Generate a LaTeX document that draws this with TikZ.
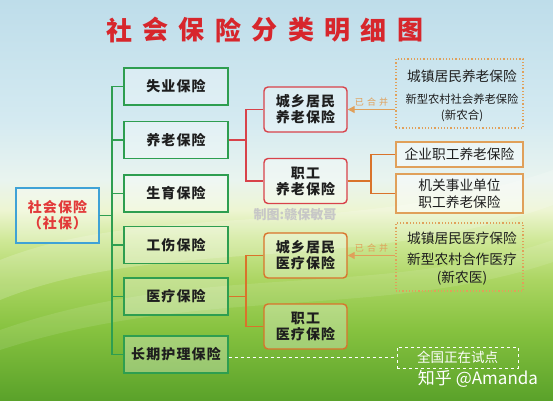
\documentclass[tikz,border=0pt]{standalone}
\usepackage{fontspec}
\setmainfont{Noto Sans CJK SC}
\usetikzlibrary{arrows.meta}
\definecolor{gcol}{HTML}{2E9E50}
\definecolor{bcol}{HTML}{3FA2D6}
\definecolor{rcol}{HTML}{D8424A}
\definecolor{ocol}{HTML}{D9732B}
\definecolor{dcol}{HTML}{E0A05A}
\definecolor{tred}{HTML}{D7262C}
\definecolor{rtred}{HTML}{E23A3A}
\definecolor{txt}{HTML}{1E1E1E}
\definecolor{bgA}{HTML}{BEDDEA}
\definecolor{bgB}{HTML}{D4EAF1}
\definecolor{bgC}{HTML}{E9F4EF}
\definecolor{bgD}{HTML}{EDF5D2}
\definecolor{bgE}{HTML}{CFE897}
\definecolor{bgF}{HTML}{ABD562}
\definecolor{bgG}{HTML}{86C23F}
\definecolor{bgH}{HTML}{5AA22A}
\pgfdeclareverticalshading{bgshade}{100bp}{color(0bp)=(bgH); color(25bp)=(bgH); color(33.75bp)=(bgG); color(40bp)=(bgF); color(45bp)=(bgE); color(48.75bp)=(bgD); color(52.5bp)=(bgC); color(60bp)=(bgB); color(75bp)=(bgA); color(100bp)=(bgA)}
\tikzset{
  boxtext/.style={font=\fontsize{14}{16}\selectfont\bfseries\addfontfeature{LetterSpace=8}, text=txt, align=center, inner sep=0pt, fill=white, fill opacity=0.3, text opacity=1},
  gbox/.style={boxtext, draw=gcol, line width=1.4pt, minimum width=104pt, minimum height=37pt},
  rbox/.style={boxtext, draw=rcol, line width=1.4pt, rounded corners=4pt, minimum width=83pt, minimum height=45pt},
  obox/.style={boxtext, draw=ocol, line width=1.4pt, rounded corners=4pt, minimum width=83pt, minimum height=45pt},
  sbox/.style={draw=dcol, line width=1.3pt, fill=white, fill opacity=0.45, text opacity=1, minimum width=127pt, inner sep=0pt, align=center, text=txt, font=\fontsize{13.7}{16}\selectfont},
  dbox/.style={draw=dcol, line width=1.2pt, dotted, minimum width=127pt, inner sep=0pt},
  gline/.style={draw=gcol, line width=1.2pt},
  rline/.style={draw=rcol, line width=1.2pt},
  oline/.style={draw=ocol, line width=1.2pt},
  mline/.style={draw=dcol, line width=1.2pt, -{Triangle[length=7pt,width=7pt]}},
  mlabel/.style={text=dcol, font=\fontsize{9}{10}\selectfont\addfontfeature{LetterSpace=35}, inner sep=1pt},
  rtext/.style={text=txt, inner sep=0pt}
}
\begin{document}
\begin{tikzpicture}[x=1pt,y=-1pt]
\useasboundingbox (0,0) rectangle (553,400);
\shade[shading=bgshade] (0,0) rectangle (553,400);
% soft waves
\fill[white, opacity=0.18] (0,260) .. controls (150,200) and (350,240) .. (553,170) -- (553,205) .. controls (360,275) and (160,235) .. (0,300) -- cycle;
\fill[white, opacity=0.10] (0,330) .. controls (200,260) and (380,300) .. (553,240) -- (553,262) .. controls (380,320) and (200,285) .. (0,350) -- cycle;

% title
\foreach \c [count=\i] in {社,会,保,险,分,类,明,细,图}{
  \node[text=tred, font=\fontsize{26}{28}\selectfont\bfseries, inner sep=0pt] (title\i) at ({119+36.4*(\i-1)},30) {\c};
}

% watermark
\node[text=black!22, font=\fontsize{13}{14}\selectfont\bfseries, inner sep=0pt] (wm) at (295,215) {制图:赣保敏哥};

% root
\node[boxtext, draw=bcol, line width=1.4pt, minimum width=83pt, minimum height=55pt, text=rtred] (root) at (57.5,215.5) {社会保险\\（社保）};

% level 1
\node[gbox] (sy) at (176,86.5) {失业保险};
\node[gbox] (yl) at (176,140) {养老保险};
\node[gbox] (sh) at (176,193.5) {生育保险};
\node[gbox] (gs) at (176,245) {工伤保险};
\node[gbox] (yy) at (176,296.5) {医疗保险};
\node[gbox] (cq) at (176,354.5) {长期护理保险};

\coordinate (tx) at (112,0);
\foreach \n in {sy,yl,sh,gs,yy,cq}{
  \draw[gline] (root.east) -- (root.east -| tx) |- (\n.west);
}

% level 2
\node[rbox] (cxyl) at (305.5,109.5) {城乡居民\\养老保险};
\node[rbox] (zgyl) at (305.5,181) {职工\\养老保险};
\node[obox] (cxyy) at (305.5,255.5) {城乡居民\\医疗保险};
\node[obox] (zgyy) at (305.5,326.5) {职工\\医疗保险};

\coordinate (rx) at (246,0);
\draw[rline] (yl.east) -- (yl.east -| rx) |- (cxyl.west);
\draw[rline] (yl.east) -- (yl.east -| rx) |- (zgyl.west);
\draw[oline] (yy.east) -- (yy.east -| rx) |- (cxyy.west);
\draw[oline] (yy.east) -- (yy.east -| rx) |- (zgyy.west);

% level 3 pension
\node[dbox, minimum height=69pt] (d1) at (459.5,93.5) {};
\node[rtext, font=\fontsize{13.7}{15}\selectfont] (d1a) at (462,76) {城镇居民养老保险};
\node[rtext, font=\fontsize{11.3}{13}\selectfont] (d1b) at (462,99) {新型农村社会养老保险};
\node[rtext, font=\fontsize{11.5}{13}\selectfont] (d1c) at (462,115.5) {(新农合)};
\draw[mline] (d1.west |- cxyl.east) -- node[mlabel, above=2pt] {已合并} (cxyl.east);

\node[sbox, minimum height=25pt] (qy) at (459.5,154.5) {企业职工养老保险};
\node[sbox, minimum height=39pt, font=\fontsize{13.7}{17}\selectfont] (jg) at (459.5,193.5) {机关事业单位\\职工养老保险};
\coordinate (ox) at (371,0);
\draw[oline] (zgyl.east) -- (zgyl.east -| ox) |- (qy.west);
\draw[oline] (zgyl.east) -- (zgyl.east -| ox) |- (jg.west);

% level 3 medical
\node[dbox, minimum height=68pt] (d2) at (459.5,257) {};
\node[rtext, font=\fontsize{13.7}{15}\selectfont] (d2a) at (462,238.5) {城镇居民医疗保险};
\node[rtext, font=\fontsize{13.7}{15}\selectfont] (d2b) at (462,259.5) {新型农村合作医疗};
\node[rtext, font=\fontsize{13.7}{15}\selectfont] (d2c) at (462,278.5) {(新农医)};
\draw[mline] (d2.west |- cxyy.east) -- node[mlabel, above=2pt] {已合并} (cxyy.east);

% long-term care pilot
\node[draw=white, dashed, line width=1pt, minimum width=121pt, minimum height=21pt, inner sep=0pt, text=white, font=\fontsize{13.5}{15}\selectfont] (pilot) at (457.5,357.5) {全国正在试点};
\draw[white, dashed, line width=1pt] (pilot.west -| cq.east) -- (pilot.west);

% zhihu watermark
\node[text=white, font=\fontsize{17}{19}\selectfont, inner sep=0pt] (zh) at (478,379) {知乎 @Amanda};
\end{tikzpicture}
\end{document}
